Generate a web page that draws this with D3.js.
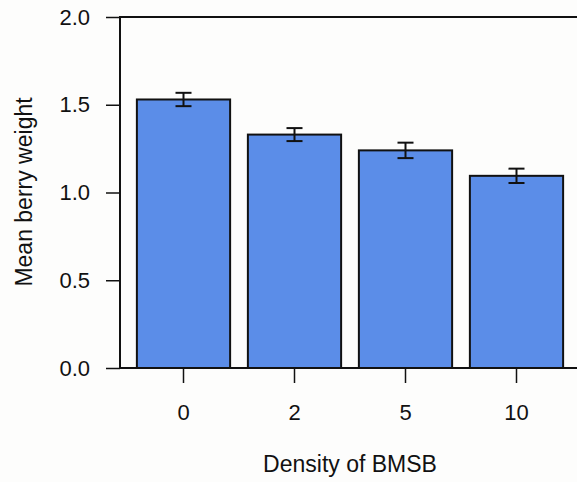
<!DOCTYPE html>
<html>
<head>
<meta charset="utf-8">
<style>
  body { margin: 0; background: #fdfdfc; font-family: "Liberation Sans", Arial, sans-serif; }
  svg text { fill: #111; }
</style>
<script src="https://d3js.org/d3.v7.min.js"></script>
</head>
<body>
<div id="chart"></div>
<script>
// data
var densities = ["0", "2", "5", "10"];
var meanWeight = [1.53, 1.33, 1.24, 1.095];
var stdErr = [0.038, 0.037, 0.044, 0.041];
var yTicks = [0, 0.5, 1, 1.5, 2];

var width = 577, height = 482;
var plot = { left: 120, top: 17, right: 577, bottom: 368 };
var fontSize = "22px";

var svg = d3.select("#chart").append("svg")
    .attr("width", width)
    .attr("height", height);

var data = densities.map(function(d, i) {
    return { density: d, mean: meanWeight[i], se: stdErr[i] };
});

var xScale = d3.scaleBand()
    .domain(densities)
    .range([128, 572])
    .paddingInner(0.16)
    .paddingOuter(0.08);

var yScale = d3.scaleLinear().domain([0, 2]).range([plot.bottom, plot.top]);

// bars
svg.selectAll(".bar")
    .data(data)
    .enter().append("rect")
    .attr("class", "bar")
    .attr("x", d => xScale(d.density))
    .attr("width", xScale.bandwidth())
    .attr("y", d => yScale(d.mean))
    .attr("height", d => yScale(0) - yScale(d.mean))
    .attr("fill", "#5b8de8")
    .attr("stroke", "#111")
    .attr("stroke-width", 2);

// error bars
var err = svg.selectAll(".err")
    .data(data)
    .enter().append("g")
    .attr("class", "err")
    .attr("stroke", "#111")
    .attr("stroke-width", 2);

err.append("line")
    .attr("x1", d => xScale(d.density) + xScale.bandwidth() / 2)
    .attr("x2", d => xScale(d.density) + xScale.bandwidth() / 2)
    .attr("y1", d => yScale(d.mean + d.se))
    .attr("y2", d => yScale(d.mean - d.se));
[1, -1].forEach(function(s) {
    err.append("line")
        .attr("x1", d => xScale(d.density) + xScale.bandwidth() / 2 - 8)
        .attr("x2", d => xScale(d.density) + xScale.bandwidth() / 2 + 8)
        .attr("y1", d => yScale(d.mean + s * d.se))
        .attr("y2", d => yScale(d.mean + s * d.se));
});

// box (right side runs off the picture)
svg.append("path")
    .attr("d", "M" + (width + 2) + "," + plot.top + "H" + plot.left + "V" + plot.bottom + "H" + (width + 2))
    .attr("fill", "none")
    .attr("stroke", "#111")
    .attr("stroke-width", 2);

// y axis
var yAxis = svg.append("g")
    .attr("transform", "translate(" + plot.left + ",0)")
    .call(d3.axisLeft(yScale).tickValues(yTicks).tickFormat(d3.format(".1f")).tickSize(14).tickPadding(16));
yAxis.select(".domain").remove();
yAxis.selectAll("line").attr("stroke", "#111").attr("stroke-width", 1.5);
yAxis.selectAll("text").attr("font-size", fontSize).attr("font-family", "Liberation Sans, Arial, sans-serif").attr("fill", "#111");

// x axis
var xAxis = svg.append("g")
    .attr("transform", "translate(0," + plot.bottom + ")")
    .call(d3.axisBottom(xScale).tickSize(15).tickPadding(21));
xAxis.select(".domain").remove();
xAxis.selectAll("line").attr("stroke", "#111").attr("stroke-width", 1.5);
xAxis.selectAll("text").attr("font-size", fontSize).attr("font-family", "Liberation Sans, Arial, sans-serif").attr("fill", "#111");

// titles
svg.append("text")
    .attr("x", 350)
    .attr("y", 472)
    .attr("text-anchor", "middle")
    .attr("font-size", "23px")
    .text("Density of BMSB");

svg.append("text")
    .attr("transform", "translate(32,192) rotate(-90)")
    .attr("text-anchor", "middle")
    .attr("font-size", "23px")
    .text("Mean berry weight");
</script>
</body>
</html>
